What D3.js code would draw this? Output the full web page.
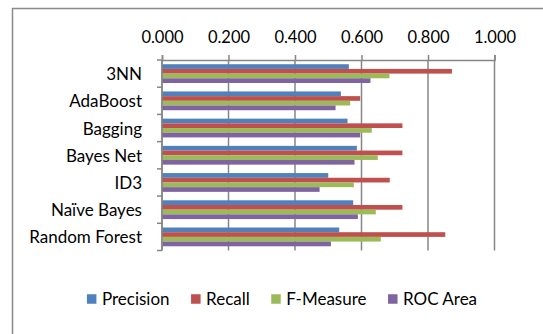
<!DOCTYPE html>
<html>
<head>
<meta charset="utf-8">
<script src="https://cdn.jsdelivr.net/npm/d3@7"></script>
<style>
  body { margin: 0; background: #fff; }
  text { font-family: Lato, "Open Sans", sans-serif; fill: #000; }
</style>
</head>
<body>
<div id="chart"></div>
<script>
// categories and series
const categories = ["3NN", "AdaBoost", "Bagging", "Bayes Net", "ID3", "Naïve Bayes", "Random Forest"];
const seriesNames = ["Precision", "Recall", "F-Measure", "ROC Area"];
const precision = [0.562, 0.538, 0.558, 0.586, 0.500, 0.575, 0.533];
const recall    = [0.872, 0.596, 0.723, 0.723, 0.685, 0.723, 0.852];
const fMeasure  = [0.684, 0.566, 0.631, 0.649, 0.577, 0.643, 0.658];
const rocArea   = [0.627, 0.522, 0.596, 0.579, 0.474, 0.589, 0.508];
const xTicks = [0, 0.2, 0.4, 0.6, 0.8, 1.0];

const colors = ["#4F81BD", "#C0504D", "#9BBB59", "#8064A2"];
const seriesValues = [precision, recall, fMeasure, rocArea];

const width = 543, height = 334;
const margin = { top: 60, left: 162, right: 48.5, bottom: 83.5 };

const svg = d3.select("#chart")
    .append("svg")
    .attr("width", width)
    .attr("height", height);

// chart border (runs off the right/bottom edge like the original)
svg.append("rect")
    .attr("x", 12.5).attr("y", 8.5)
    .attr("width", 700).attr("height", 500)
    .attr("fill", "none")
    .attr("stroke", "#8a8a8a")
    .attr("stroke-width", 1.5);

const x = d3.scaleLinear()
    .domain([0, 1])
    .range([margin.left, width - margin.right]);

const y = d3.scaleBand()
    .domain(categories)
    .range([margin.top, height - margin.bottom])
    .paddingInner(0.31)
    .paddingOuter(0.155);

const ySub = d3.scaleBand()
    .domain(seriesNames)
    .range([0, y.bandwidth()]);

// vertical gridlines
svg.append("g")
    .selectAll("line")
    .data(xTicks)
    .join("line")
    .attr("x1", d => x(d)).attr("x2", d => x(d))
    .attr("y1", margin.top).attr("y2", height - margin.bottom)
    .attr("stroke", "#868686")
    .attr("stroke-width", 1.5);

// bars
const rows = [];
categories.forEach((c, i) => {
    seriesNames.forEach((s, j) => rows.push({ cat: c, series: s, value: seriesValues[j][i], color: colors[j] }));
});

svg.append("g")
    .selectAll("rect")
    .data(rows)
    .join("rect")
    .attr("x", x(0))
    .attr("y", d => y(d.cat) + ySub(d.series))
    .attr("width", d => x(d.value) - x(0))
    .attr("height", ySub.bandwidth())
    .attr("fill", d => d.color);

// top axis
const xAxis = svg.append("g")
    .attr("transform", `translate(0,${margin.top})`)
    .call(d3.axisTop(x).tickValues(xTicks).tickFormat(d3.format(".3f")).tickSize(5).tickPadding(12));
xAxis.select(".domain").attr("stroke", "#868686").attr("stroke-width", 1.5);
xAxis.selectAll(".tick line").attr("stroke", "#868686").attr("stroke-width", 1.5);
xAxis.selectAll("text").style("font-size", "16.5px").attr("fill", "#000");

// left axis: ticks sit on the category boundaries
const yBounds = d3.range(categories.length + 1).map(i => margin.top + i * y.step());
svg.append("g")
    .selectAll("line")
    .data(yBounds)
    .join("line")
    .attr("x1", x(0) - 5).attr("x2", x(0))
    .attr("y1", d => d).attr("y2", d => d)
    .attr("stroke", "#868686")
    .attr("stroke-width", 1.5);
svg.append("line")
    .attr("x1", x(0)).attr("x2", x(0))
    .attr("y1", margin.top).attr("y2", height - margin.bottom)
    .attr("stroke", "#868686")
    .attr("stroke-width", 1.5);

svg.append("g")
    .selectAll("text")
    .data(categories)
    .join("text")
    .attr("x", 142)
    .attr("y", d => y(d) + y.bandwidth() / 2 + 6.5)
    .attr("text-anchor", "end")
    .style("font-size", "17px")
    .text(d => d);

// legend
const legend = svg.append("g");
const items = legend.selectAll("g")
    .data(seriesNames)
    .join("g");
items.append("rect")
    .attr("width", 9.5).attr("height", 9.5)
    .attr("y", -4.75)
    .attr("fill", (d, i) => colors[i]);
items.append("text")
    .attr("x", 15)
    .attr("y", 6)
    .style("font-size", "17px")
    .text(d => d);

let cx = 0;
items.each(function () {
    const w = d3.select(this).select("text").node().getComputedTextLength();
    d3.select(this).attr("transform", `translate(${cx},299)`);
    cx += 15 + w + 21.5;
});
const legendWidth = cx - 21.5;
legend.attr("transform", `translate(${282 - legendWidth / 2},0)`);
</script>
</body>
</html>
